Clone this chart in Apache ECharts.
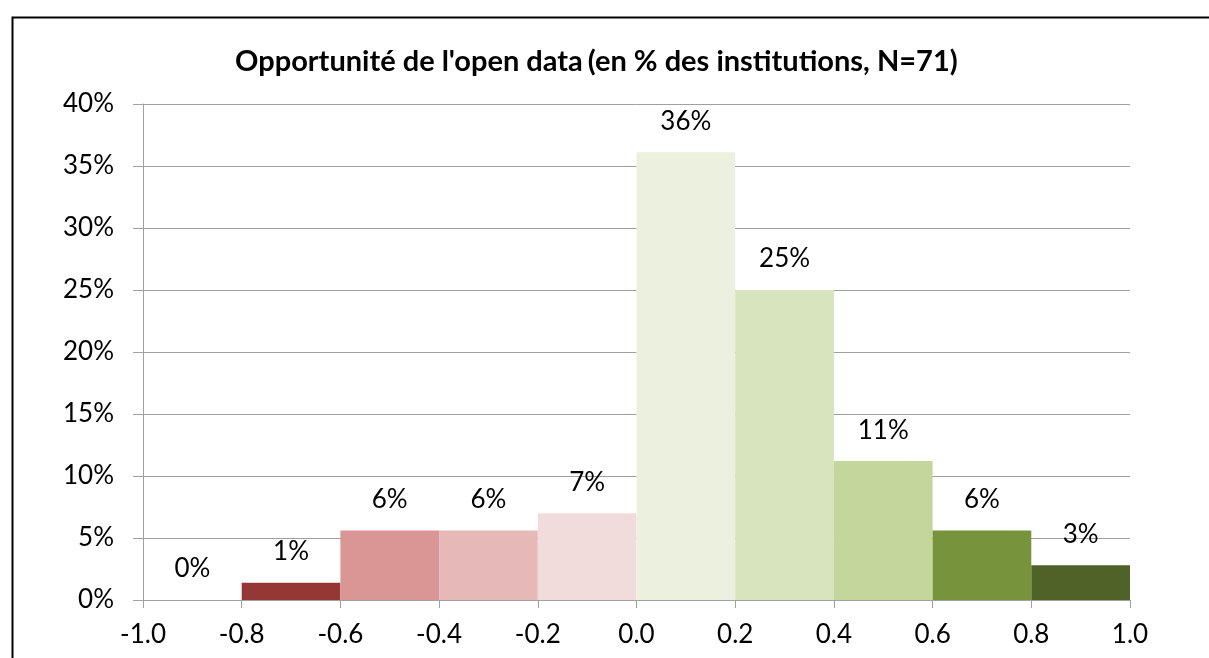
<!DOCTYPE html>
<html>
<head>
<meta charset="utf-8">
<script src="https://cdn.jsdelivr.net/npm/echarts@6/dist/echarts.min.js"></script>
<style>
  html, body { margin: 0; padding: 0; background: #fff; }
  #chart { width: 1209px; height: 658px; }
</style>
</head>
<body>
<div id="chart"></div>
<script>
// bornes des classes (score d'opportunité) et part des institutions en %
const binStarts = [-1.0, -0.8, -0.6, -0.4, -0.2, 0.0, 0.2, 0.4, 0.6, 0.8]
const binEnds = [-0.8, -0.6, -0.4, -0.2, 0.0, 0.2, 0.4, 0.6, 0.8, 1.0]
const shares = [0, 1.4, 5.6, 5.6, 7.0, 36.1, 25.0, 11.2, 5.6, 2.8]
const barColors = ['#953735', '#953735', '#d99694', '#e6b9b8', '#f2dcdb',
  '#ebf1de', '#d7e4bd', '#c3d69b', '#77933c', '#4f6228']

const FONT = 'Lato, "Open Sans", sans-serif'
const GRID_COLOR = '#a0a0a0'

const chart = echarts.init(document.getElementById('chart'), null, { renderer: 'canvas' })

const renderItem = (params, api) => {
  const x0 = api.value(0), x1 = api.value(1), v = api.value(2)
  const p0 = api.coord([x0, 0])
  const p1 = api.coord([x1, v])
  const idx = params.dataIndex
  const children = []
  if (v > 0) {
    children.push({
      type: 'rect',
      shape: { x: p0[0], y: p1[1], width: p1[0] - p0[0], height: p0[1] - p1[1] },
      style: { fill: barColors[idx] },
    })
  }
  children.push({
    type: 'text',
    z2: 10,
    style: {
      x: (p0[0] + p1[0]) / 2, y: p1[1] - 31,
      text: Math.round(v) + '%',
      fill: '#000', font: '26px ' + FONT,
      align: 'center', verticalAlign: 'middle',
    },
  })
  return { type: 'group', children }
}

chart.setOption({
  animation: false,
  backgroundColor: '#fff',
  graphic: [{
    type: 'rect', left: 10, top: 15, z: 100,
    shape: { width: 1260, height: 700 },
    style: { fill: 'none', stroke: '#000', lineWidth: 2 },
  }],
  title: {
    text: '{b|Opportunité de l\'open data} {n|(en % des institutions, N=71)}',
    left: 230, top: 42,
    textStyle: {
      rich: {
        b: { fontFamily: FONT, fontSize: 29, fontWeight: 'bold', color: '#000' },
        n: { fontFamily: FONT, fontSize: 29, color: '#000' },
      },
    },
  },
  grid: { left: 143, right: 79, top: 104, bottom: 58 },
  xAxis: {
    type: 'value', min: -1, max: 1, interval: 0.2,
    axisLine: { show: true, lineStyle: { color: GRID_COLOR, width: 1 } },
    axisTick: { show: true, length: 8, lineStyle: { color: GRID_COLOR } },
    splitLine: { show: false },
    axisLabel: {
      color: '#000', fontFamily: FONT, fontSize: 26, margin: 22,
      formatter: v => (Math.abs(v) < 1e-9 ? 0 : v).toFixed(1),
    },
  },
  yAxis: {
    type: 'value', min: 0, max: 40, interval: 5,
    axisLine: { show: true, onZero: false, lineStyle: { color: GRID_COLOR, width: 1 } },
    axisTick: { show: true, inside: false, length: 10, lineStyle: { color: GRID_COLOR } },
    splitLine: { lineStyle: { color: GRID_COLOR, width: 1 } },
    axisLabel: { color: '#000', fontFamily: FONT, fontSize: 26, margin: 29, formatter: '{value}%' },
  },
  series: [{
    type: 'custom',
    renderItem,
    encode: { x: [0, 1], y: 2 },
    data: binStarts.map((s, i) => [s, binEnds[i], shares[i]]),
  }],
})
</script>
</body>
</html>
